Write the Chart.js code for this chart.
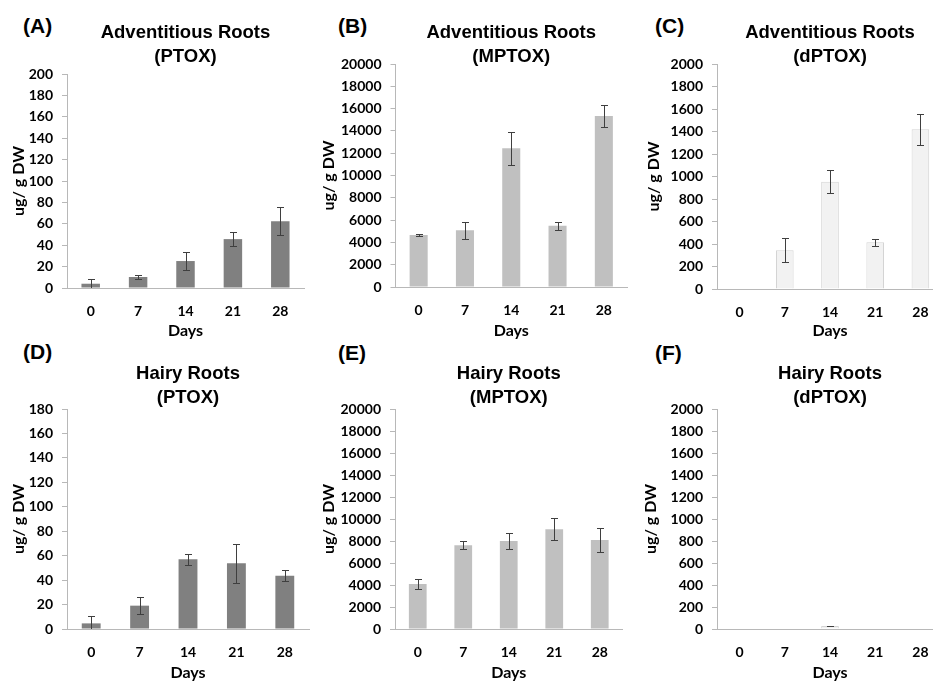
<!DOCTYPE html>
<html>
<head>
<meta charset="utf-8">
<script src="https://cdn.jsdelivr.net/npm/chart.js@4.4.1/dist/chart.umd.min.js"></script>
<style>
  html, body { margin: 0; padding: 0; background: #fff; width: 933px; height: 682px; overflow: hidden; position: relative; }
  canvas { position: absolute; }
  .panel-tag { position: absolute; font: bold 21px "Liberation Sans", Arial, sans-serif; line-height: 21px; color: #000; }
</style>
</head>
<body>
<div class="panel-tag" style="left:23px;top:15px">(A)</div>
<div class="panel-tag" style="left:338px;top:15px">(B)</div>
<div class="panel-tag" style="left:655px;top:15px">(C)</div>
<div class="panel-tag" style="left:23px;top:341px">(D)</div>
<div class="panel-tag" style="left:338px;top:342px">(E)</div>
<div class="panel-tag" style="left:655px;top:342px">(F)</div>

<canvas id="chartA"></canvas>
<canvas id="chartB"></canvas>
<canvas id="chartC"></canvas>
<canvas id="chartD"></canvas>
<canvas id="chartE"></canvas>
<canvas id="chartF"></canvas>

<script>
// Sampling days
const days = ['0', '7', '14', '21', '28'];

// Adventitious roots (ug / g DW) and standard deviations
const advPTOX      = [4, 10.3, 25.2, 45.7, 62.5];
const advPTOXErr   = [4.4, 1.9, 8.7, 6.6, 13.1];
const advMPTOX     = [4660, 5080, 12440, 5500, 15340];
const advMPTOXErr  = [100, 780, 1500, 360, 990];
const advDPTOX     = [0, 345, 954, 416, 1420];
const advDPTOXErr  = [0, 105, 104, 30, 137];

// Hairy roots (ug / g DW) and standard deviations
const hairyPTOX     = [4.6, 19.1, 57, 53.7, 43.6];
const hairyPTOXErr  = [6.3, 6.8, 4.6, 16, 4.4];
const hairyMPTOX    = [4080, 7610, 8010, 9060, 8100];
const hairyMPTOXErr = [480, 360, 700, 1000, 1100];
const hairyDPTOX    = [0, 0, 28, 0, 0];
const hairyDPTOXErr = [0, 0, 3, 0, 0];

// Axis ranges
const ptoxAdvMax = 200, ptoxHairyMax = 180, ptoxStep = 20;
const mptoxMax = 20000, mptoxStep = 2000;
const dptoxMax = 2000, dptoxStep = 200;

const axisColor = '#b8b8b8';
const tickFont = { family: 'Lato', weight: 'bold', size: 14 };
const axisTitleFont = { family: 'Lato', weight: 'bold', size: 16, lineHeight: 1 };

// Vertical error bars with caps, drawn through the value scale
const errorBars = {
  id: 'errorBars',
  afterDatasetsDraw(chart) {
    const ctx = chart.ctx;
    const yScale = chart.scales.y;
    const area = chart.chartArea;
    chart.data.datasets.forEach((ds, di) => {
      const meta = chart.getDatasetMeta(di);
      meta.data.forEach((bar, i) => {
        const v = ds.data[i];
        const e = ds.errors ? ds.errors[i] : 0;
        if (!e) return;
        const top = Math.round(yScale.getPixelForValue(v + e)) + 0.5;
        const low = v - e;
        const bot = Math.min(Math.round(yScale.getPixelForValue(low)) + 0.5, area.bottom);
        const x = Math.round(bar.x) + 0.5;
        ctx.save();
        ctx.strokeStyle = '#3f3f3f';
        ctx.lineWidth = 1;
        ctx.beginPath();
        ctx.moveTo(x, top); ctx.lineTo(x, bot);
        ctx.moveTo(x - 3.5, top); ctx.lineTo(x + 3.5, top);
        if (low > 0) { ctx.moveTo(x - 3.5, bot); ctx.lineTo(x + 3.5, bot); }
        ctx.stroke();
        ctx.restore();
      });
    });
  }
};

function makePanel(id, p) {
  const cv = document.getElementById(id);
  cv.width = p.w; cv.height = p.h;
  cv.style.left = p.x + 'px'; cv.style.top = p.y + 'px';
  return new Chart(cv, {
    type: 'bar',
    data: {
      labels: days,
      datasets: [{
        data: p.values,
        errors: p.errors,
        backgroundColor: p.fill,
        borderColor: p.stroke || p.fill,
        borderWidth: p.stroke ? 1 : 0,
        categoryPercentage: 1,
        barPercentage: 0.39
      }]
    },
    options: {
      responsive: false,
      animation: false,
      events: [],
      layout: { padding: { left: 0, right: p.padR, top: 0, bottom: 0 } },
      plugins: {
        legend: { display: false },
        tooltip: { enabled: false },
        title: {
          display: true,
          text: p.title,
          fullSize: false,
          color: '#000',
          font: { family: 'Liberation Sans', weight: 'bold', size: 18.5, lineHeight: 24 / 18.5 },
          padding: { top: p.tTop, bottom: p.tBot }
        }
      },
      scales: {
        x: {
          grid: { display: false, drawTicks: false },
          border: { color: axisColor },
          ticks: { color: '#000', font: tickFont, padding: 15, maxRotation: 0 },
          title: { display: true, text: 'Days', color: '#000', font: axisTitleFont, padding: { top: 0, bottom: 1 } },
          afterFit(s) { s.height = p.xH; }
        },
        y: {
          min: 0,
          max: p.max,
          ticks: { stepSize: p.step, color: '#000', font: tickFont, padding: 9, callback: (v) => String(v) },
          grid: { drawOnChartArea: false, tickLength: 5, color: axisColor },
          border: { color: axisColor },
          title: { display: true, text: 'ug/ g DW', color: '#000', font: axisTitleFont, padding: { top: p.yTitlePad, bottom: 0 } },
          afterFit(s) { s.width = p.yW; }
        }
      }
    },
    plugins: [errorBars]
  });
}

const darkBar = '#808080', midBar = '#c0c0c0', paleBar = '#f2f2f2', paleEdge = '#d4d4d4';

makePanel('chartA', { x: 0, y: 0, w: 312, h: 340, padR: 8, yW: 67, xH: 52, tTop: 21, tBot: 5, yTitlePad: 11,
  title: ['Adventitious Roots', '(PTOX)'], values: advPTOX, errors: advPTOXErr, max: ptoxAdvMax, step: ptoxStep, fill: darkBar });
makePanel('chartB', { x: 312, y: 0, w: 320, h: 340, padR: 5, yW: 83.5, xH: 53, tTop: 21, tBot: -5, yTitlePad: 9,
  title: ['Adventitious Roots', '(MPTOX)'], values: advMPTOX, errors: advMPTOXErr, max: mptoxMax, step: mptoxStep, fill: midBar });
makePanel('chartC', { x: 622, y: 0, w: 330, h: 340, padR: 9, yW: 95, xH: 51, tTop: 21, tBot: -5, yTitlePad: 24,
  title: ['Adventitious Roots', '(dPTOX)'], values: advDPTOX, errors: advDPTOXErr, max: dptoxMax, step: dptoxStep, fill: paleBar, stroke: paleEdge });
makePanel('chartD', { x: 0, y: 340, w: 312, h: 342, padR: 3, yW: 67, xH: 53, tTop: 21.5, tBot: -0.5, yTitlePad: 11,
  title: ['Hairy Roots', '(PTOX)'], values: hairyPTOX, errors: hairyPTOXErr, max: ptoxHairyMax, step: ptoxStep, fill: darkBar });
makePanel('chartE', { x: 312, y: 340, w: 320, h: 342, padR: 9.5, yW: 83, xH: 53, tTop: 21.5, tBot: -0.5, yTitlePad: 9,
  title: ['Hairy Roots', '(MPTOX)'], values: hairyMPTOX, errors: hairyMPTOXErr, max: mptoxMax, step: mptoxStep, fill: midBar });
makePanel('chartF', { x: 622, y: 340, w: 330, h: 342, padR: 9, yW: 95, xH: 53, tTop: 21.5, tBot: -0.5, yTitlePad: 21,
  title: ['Hairy Roots', '(dPTOX)'], values: hairyDPTOX, errors: hairyDPTOXErr, max: dptoxMax, step: dptoxStep, fill: paleBar, stroke: paleEdge });
</script>
</body>
</html>
